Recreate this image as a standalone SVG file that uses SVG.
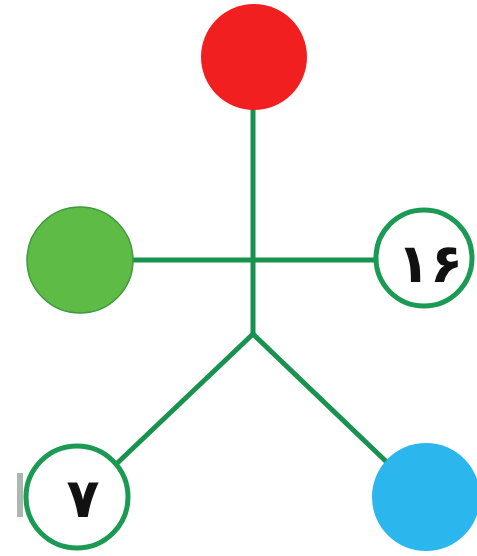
<svg xmlns="http://www.w3.org/2000/svg" width="477" height="556" viewBox="0 0 477 556">
<style>
.edge{stroke:#17924f;stroke-width:5;fill:none;stroke-linecap:butt}
.ring{fill:#ffffff;stroke:#1a9a52;stroke-width:5}
.num{font-family:"DejaVu Sans",sans-serif;font-weight:bold;font-size:54px;fill:#111111;text-anchor:middle}
</style>
<rect width="477" height="556" fill="#ffffff"/>
<g id="connectors">
<line class="edge" x1="253" y1="105" x2="253" y2="334"/>
<line class="edge" x1="130" y1="260" x2="380" y2="260"/>
<line class="edge" x1="253" y1="334" x2="110" y2="470"/>
<line class="edge" x1="253" y1="334" x2="395" y2="470"/>
</g>
<g id="node-red">
<circle cx="254" cy="57" r="53" fill="#f11f1f"/>
</g>
<g id="node-green">
<circle cx="80" cy="260" r="53" fill="#5dbb46" stroke="#3f9a3c" stroke-width="1.5"/>
</g>
<g id="node-16">
<circle class="ring" cx="424" cy="258" r="48"/>
<text class="num" x="430" y="282">۱۶</text>
</g>
<g id="node-7">
<rect x="17" y="473" width="6" height="44" fill="#9aa49c" opacity="0.8"/>
<circle class="ring" cx="77" cy="497" r="51"/>
<text class="num" x="83" y="517">۷</text>
</g>
<g id="node-blue">
<circle cx="426" cy="497" r="54" fill="#2bb6ee"/>
</g>
</svg>
